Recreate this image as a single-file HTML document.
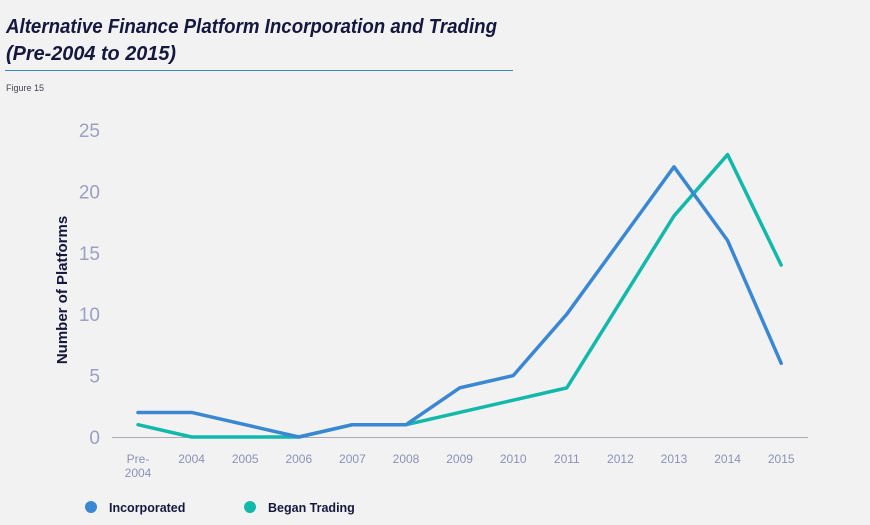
<!DOCTYPE html>
<html><head><meta charset="utf-8"><style>
body{margin:0;background:#f2f2f2;font-family:"Liberation Sans",sans-serif;}
#wrap{position:relative;width:870px;height:525px;overflow:hidden;background:#f2f2f2;}
</style></head><body>
<div id="wrap">
<svg id="chart" width="870" height="525">
<text x="6" y="33" font-size="20" font-weight="bold" font-style="italic" fill="#14183f" textLength="491" lengthAdjust="spacingAndGlyphs">Alternative Finance Platform Incorporation and Trading</text>
<text x="6" y="60" font-size="20" font-weight="bold" font-style="italic" fill="#14183f" textLength="170" lengthAdjust="spacingAndGlyphs">(Pre-2004 to 2015)</text>
<line x1="5" y1="70.5" x2="513" y2="70.5" stroke="#3a87d4" stroke-width="1"/>
<text x="6" y="91" font-size="9" fill="#445">Figure 15</text>
<text transform="translate(67,290) rotate(-90)" text-anchor="middle" font-size="15" font-weight="bold" fill="#14183f">Number of Platforms</text>
<line x1="112" y1="437.5" x2="808" y2="437.5" stroke="#aab" stroke-width="1"/>
<g id="yt"></g><g id="xt"></g><g id="lines"></g>
<circle cx="91" cy="507" r="6" fill="#3a87d4"/>
<text x="109" y="512" font-size="12.5" font-weight="bold" fill="#14183f">Incorporated</text>
<circle cx="250" cy="507" r="6" fill="#12b8aa"/>
<text x="268" y="512" font-size="12.5" font-weight="bold" fill="#14183f">Began Trading</text>
</svg>
</div>
<script>
const categories=["Pre-2004","2004","2005","2006","2007","2008","2009","2010","2011","2012","2013","2014","2015"];
const incorporated=[2,2,1,0,1,1,4,5,10,16,22,16,6];
const beganTrading=[1,0,0,0,1,1,2,3,4,11,18,23,14];
const yTicks=[0,5,10,15,20,25];
const NS="http://www.w3.org/2000/svg";
function xs(i){return 138+i*53.6;}
function ys(v){return 437-v*12.28;}
function mk(t,a,p){const e=document.createElementNS(NS,t);for(const k in a)e.setAttribute(k,a[k]);p.appendChild(e);return e;}
const yt=document.getElementById('yt');
yTicks.forEach(v=>{const t=mk('text',{x:100,y:ys(v)+7,'text-anchor':'end','font-size':19,fill:'#9aa0c4'},yt);t.textContent=v;

});
const xt=document.getElementById('xt');
categories.forEach((c,i)=>{
 if(c==="Pre-2004"){
  const t1=mk('text',{x:xs(i),y:463,'text-anchor':'middle','font-size':12,fill:'#8a92b8'},xt);t1.textContent="Pre-";
  
  
  const t2=mk('text',{x:xs(i),y:477,'text-anchor':'middle','font-size':12,fill:'#8a92b8'},xt);t2.textContent="2004";
  
  
 } else {
  const t=mk('text',{x:xs(i),y:463,'text-anchor':'middle','font-size':12,fill:'#8a92b8'},xt);t.textContent=c;
  
  
 }
});
const lg=document.getElementById('lines');
function line(vals,col,name){
 const d=vals.map((v,i)=>(i?'L':'M')+xs(i)+' '+ys(v)).join(' ');
 const p=mk('path',{d:d,fill:'none',stroke:col,'stroke-width':3.5,'stroke-linejoin':'round','stroke-linecap':'round'},lg);
 
 
}
line(beganTrading,'#12b8aa','began-trading-line');
line(incorporated,'#3a87d4','incorporated-line');
</script>
</body></html>
